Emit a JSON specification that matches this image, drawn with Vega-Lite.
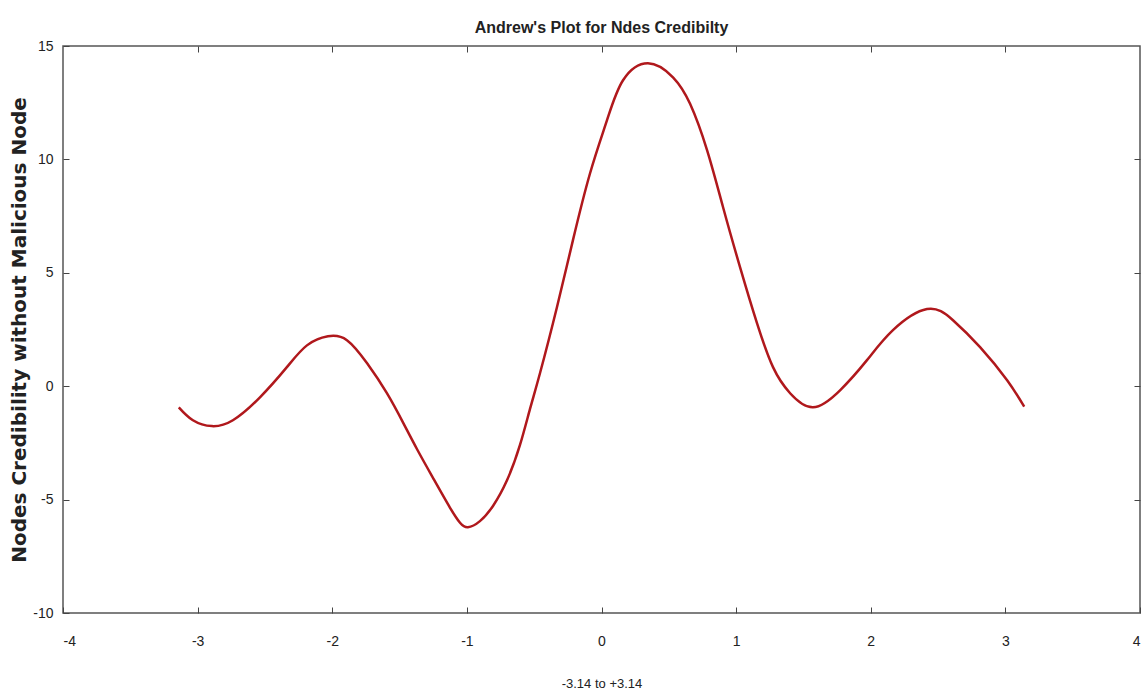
{
  "$schema": "https://vega.github.io/schema/vega-lite/v6.json",
  "autosize": {"type": "none"},
  "padding": {"left": 63, "top": 46, "right": 7, "bottom": 83},
  "width": 1077,
  "height": 567,
  "background": "white",
  "title": {
    "text": "Andrew's Plot for Ndes Credibilty",
    "font": "Liberation Sans",
    "fontSize": 16,
    "fontWeight": "bold",
    "color": "#222222",
    "anchor": "middle",
    "offset": 3
  },
  "config": {
    "view": {"stroke": "#555555", "strokeWidth": 1.5},
    "axis": {
      "grid": false,
      "domain": false,
      "tickColor": "#444444",
      "tickWidth": 1,
      "tickSize": -6,
      "labelFont": "Liberation Sans",
      "labelFontSize": 14,
      "labelColor": "#222222",
      "titleColor": "#222222"
    }
  },
  "data": {
    "values": [
      {"t": -3.14, "v": -0.93},
      {"t": -3.035, "v": -1.5},
      {"t": -2.894, "v": -1.76},
      {"t": -2.738, "v": -1.5},
      {"t": -2.537, "v": -0.49},
      {"t": -2.337, "v": 0.84},
      {"t": -2.188, "v": 1.8},
      {"t": -2.032, "v": 2.2},
      {"t": -1.891, "v": 2.03},
      {"t": -1.741, "v": 1.01},
      {"t": -1.594, "v": -0.31},
      {"t": -1.47, "v": -1.65},
      {"t": -1.37, "v": -2.78},
      {"t": -1.25, "v": -4.06},
      {"t": -1.126, "v": -5.35},
      {"t": -1.051, "v": -6.02},
      {"t": -0.992, "v": -6.22},
      {"t": -0.903, "v": -5.95},
      {"t": -0.806, "v": -5.28},
      {"t": -0.702, "v": -4.15},
      {"t": -0.606, "v": -2.6},
      {"t": -0.531, "v": -1.0},
      {"t": -0.457, "v": 0.57},
      {"t": -0.331, "v": 3.48},
      {"t": -0.212, "v": 6.44},
      {"t": -0.085, "v": 9.39},
      {"t": 0.041, "v": 11.73},
      {"t": 0.16, "v": 13.49},
      {"t": 0.345, "v": 14.24},
      {"t": 0.531, "v": 13.62},
      {"t": 0.658, "v": 12.45},
      {"t": 0.784, "v": 10.41},
      {"t": 0.903, "v": 7.89},
      {"t": 1.029, "v": 5.25},
      {"t": 1.155, "v": 2.78},
      {"t": 1.274, "v": 0.84},
      {"t": 1.401, "v": -0.31},
      {"t": 1.571, "v": -0.93},
      {"t": 1.772, "v": -0.18},
      {"t": 1.972, "v": 1.15},
      {"t": 2.165, "v": 2.47},
      {"t": 2.418, "v": 3.4},
      {"t": 2.611, "v": 2.91},
      {"t": 2.812, "v": 1.72},
      {"t": 3.013, "v": 0.26},
      {"t": 3.14, "v": -0.9}
    ]
  },
  "layer": [
    {
      "mark": {"type": "line", "color": "#b0181c", "strokeWidth": 2.5, "interpolate": "natural"},
      "encoding": {
        "x": {
          "field": "t", "type": "quantitative",
          "scale": {"domain": [-4, 4], "nice": false, "zero": false},
          "axis": {
            "orient": "bottom",
            "values": [-4, -3, -2, -1, 0, 1, 2, 3, 4],
            "labelExpr": "'' + datum.value",
            "labelPadding": 27,
            "title": "-3.14 to +3.14",
            "titleFont": "Liberation Sans",
            "titleFontSize": 13,
            "titleFontWeight": "normal",
            "titlePadding": 29
          }
        },
        "y": {
          "field": "v", "type": "quantitative",
          "scale": {"domain": [-10, 15], "nice": false, "zero": false},
          "axis": {
            "orient": "left",
            "values": [-10, -5, 0, 5, 10, 15],
            "labelExpr": "'' + datum.value",
            "labelPadding": 16,
            "title": "Nodes Credibility without Malicious Node",
            "titleFont": "DejaVu Sans",
            "titleFontSize": 20,
            "titleFontWeight": "bold",
            "titlePadding": 3
          }
        }
      }
    },
    {
      "mark": {"type": "line", "opacity": 0},
      "encoding": {
        "x": {
          "field": "t", "type": "quantitative",
          "scale": {"domain": [-4, 4], "nice": false, "zero": false},
          "axis": {"orient": "top", "values": [-3, -2, -1, 0, 1, 2, 3], "labels": false, "title": null}
        },
        "y": {
          "field": "v", "type": "quantitative",
          "scale": {"domain": [-10, 15], "nice": false, "zero": false},
          "axis": {"orient": "right", "values": [-5, 0, 5, 10], "labels": false, "title": null}
        }
      }
    }
  ],
  "resolve": {"axis": {"x": "independent", "y": "independent"}}
}
